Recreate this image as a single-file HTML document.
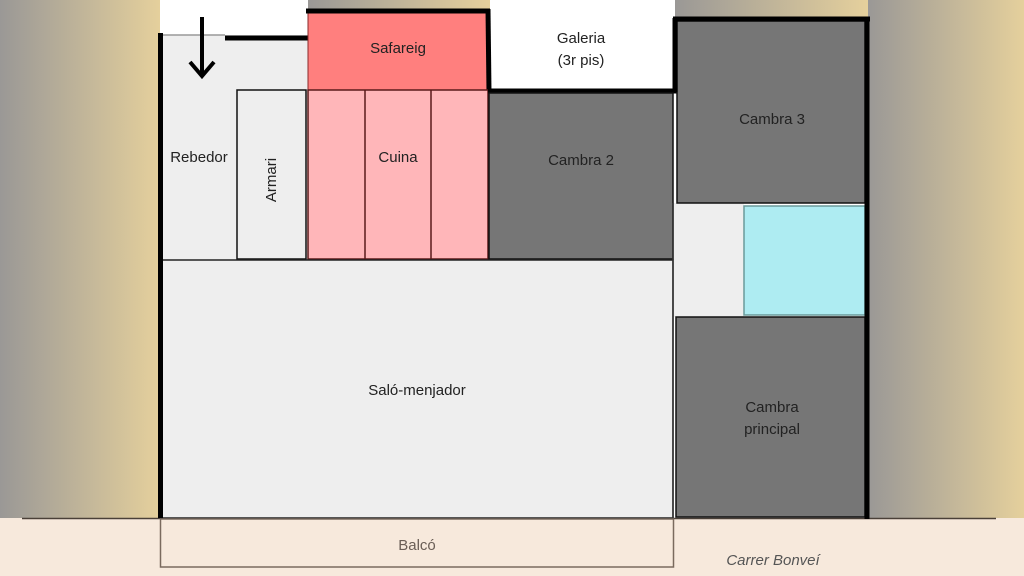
<!DOCTYPE html>
<html><head><meta charset="utf-8"><style>
body{margin:0;width:1024px;height:576px;overflow:hidden;background:#fff}
svg{display:block}
text{font-family:"Liberation Sans",sans-serif;font-size:15px;fill:#222;text-anchor:middle}
</style></head><body>
<svg width="1024" height="576" viewBox="0 0 1024 576">
<defs>
<linearGradient id="g" x1="0" x2="1" y1="0" y2="0"><stop offset="0" stop-color="#9a9896"/><stop offset="1" stop-color="#e5d09c"/></linearGradient>
</defs>
<rect x="0" y="0" width="160" height="518" fill="url(#g)"/>
<rect x="868" y="0" width="156" height="518" fill="url(#g)"/>
<rect x="308" y="0" width="182" height="12" fill="url(#g)"/>
<rect x="675" y="0" width="193" height="20" fill="url(#g)"/>
<rect x="0" y="518" width="1024" height="58" fill="#f7e9dc"/>
<line x1="22" y1="518.5" x2="996" y2="518.5" stroke="#4a4038" stroke-width="1.5"/>
<!-- Rebedor -->
<rect x="160" y="35" width="148" height="225" fill="#eeeeee"/>
<line x1="160" y1="35" x2="225" y2="35" stroke="#999" stroke-width="1.5"/>
<line x1="225" y1="38" x2="308" y2="38" stroke="#000" stroke-width="5"/>
<line x1="202" y1="17" x2="202" y2="74" stroke="#000" stroke-width="4"/>
<polyline points="190,62 202,76 214,62" fill="none" stroke="#000" stroke-width="4"/>
<rect x="237" y="90" width="69" height="169" fill="#eee" stroke="#111" stroke-width="1.5"/>
<text x="199" y="162">Rebedor</text>
<text transform="translate(276,180) rotate(-90)" x="0" y="0">Armari</text>
<!-- Safareig -->
<rect x="308" y="11" width="180" height="79" fill="#ff7f7e" stroke="#8a2a2a" stroke-width="1"/>
<line x1="306" y1="11" x2="490" y2="11" stroke="#000" stroke-width="5"/>
<line x1="488" y1="9" x2="489" y2="92" stroke="#000" stroke-width="5"/>
<text x="398" y="53">Safareig</text>
<!-- Cuina -->
<rect x="308" y="90" width="180" height="169" fill="#ffb6b9" stroke="#5a1a1a" stroke-width="1.5"/>
<line x1="365" y1="90" x2="365" y2="259" stroke="#5a1a1a" stroke-width="1.5"/>
<line x1="431" y1="90" x2="431" y2="259" stroke="#5a1a1a" stroke-width="1.5"/>
<text x="398" y="162">Cuina</text>
<!-- Galeria -->
<text x="581" y="43">Galeria</text>
<text x="581" y="65">(3r pis)</text>
<line x1="488" y1="91" x2="677" y2="91" stroke="#000" stroke-width="5"/>
<rect x="489" y="93" width="184" height="166" fill="#767676" stroke="#111" stroke-width="1.5"/>
<text x="581" y="165">Cambra 2</text>
<!-- Saló -->
<rect x="161" y="260" width="512" height="258" fill="#eeeeee" stroke="#222" stroke-width="1.5"/>
<text x="417" y="395">Saló-menjador</text>
<line x1="160.5" y1="33" x2="160.5" y2="518" stroke="#000" stroke-width="5"/>
<!-- Right block -->
<rect x="674" y="203" width="70" height="114" fill="#eeeeee"/>
<rect x="677" y="21" width="188" height="182" fill="#767676" stroke="#111" stroke-width="1.5"/>
<rect x="744" y="206" width="121" height="109" fill="#aeecf2" stroke="#6a9a9a" stroke-width="1.5"/>
<rect x="676" y="317" width="189" height="200" fill="#767676" stroke="#111" stroke-width="1.5"/>
<line x1="673" y1="203" x2="673" y2="518" stroke="#333" stroke-width="1.5"/>
<line x1="675" y1="18" x2="675" y2="92" stroke="#000" stroke-width="5"/>
<line x1="673" y1="19" x2="870" y2="19" stroke="#000" stroke-width="5"/>
<line x1="867" y1="17" x2="867" y2="519" stroke="#000" stroke-width="5"/>
<text x="772" y="124">Cambra 3</text>
<text x="772" y="412">Cambra</text>
<text x="772" y="434">principal</text>
<!-- Balcó -->
<rect x="160.5" y="519" width="513" height="48" fill="none" stroke="#7a6a5e" stroke-width="1.5"/>
<text x="417" y="550" style="fill:#6a5e56">Balcó</text>
<text x="773" y="565" style="fill:#555;font-style:italic">Carrer Bonveí</text>
</svg>
</body></html>
